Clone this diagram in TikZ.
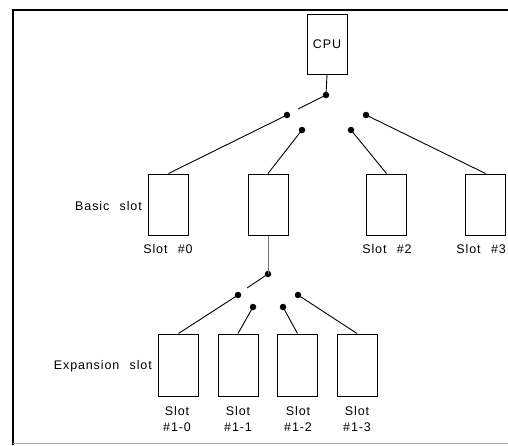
\documentclass[tikz,border=0pt]{standalone}
\usepackage{fontspec}
\setmainfont{Liberation Sans}[LetterSpace=7,WordSpace=2.4]
\begin{document}
\begin{tikzpicture}[x=1pt,y=-1pt,
  slotbox/.style={draw,line width=1pt,minimum width=40pt,minimum height=61pt,inner sep=0pt},
  cpubox/.style={draw,line width=1pt,minimum width=40pt,minimum height=60pt,inner sep=0pt},
  dot/.style={circle,fill,inner sep=0pt,minimum size=6.5pt},
  wire/.style={line width=0.9pt},
  lbl/.style={font=\fontsize{12.5}{16}\selectfont,inner sep=0pt,align=center}]
\useasboundingbox (0,0) rectangle (508,445);
% frame
\draw[line width=1.6pt] (13,445) -- (13,10) -- (508,10);
\draw[line width=0.6pt,black!35] (13,443) -- (508,443);
% CPU
\node[cpubox,lbl] (cpu) at (327,44) {CPU};
\node[dot] (p0) at (326,95) {};
\coordinate (a0) at (298,109);
\draw[wire] (cpu.south) -- (p0.center);
\draw[wire] (p0.center) -- (a0);
% basic slot contacts
\node[dot] (c0) at (287,115) {};
\node[dot] (c1) at (302,130) {};
\node[dot] (c2) at (351,130) {};
\node[dot] (c3) at (366,115) {};
% basic slots
\node[slotbox] (s0) at (168.5,204.5) {};
\node[slotbox] (s1) at (268,204.5) {};
\node[slotbox] (s2) at (386.5,204.5) {};
\node[slotbox] (s3) at (485.5,204.5) {};
\draw[wire] (c0.center) -- (s0.north);
\draw[wire] (c1.center) -- (s1.north);
\draw[wire] (c2.center) -- (s2.north);
\draw[wire] (c3.center) -- (s3.north);
\node[lbl,anchor=east] (bl) at (142,206) {Basic slot};
\node[lbl] (l0) at (168,249) {Slot \#0};
\node[lbl] (l2) at (387,249) {Slot \#2};
\node[lbl,anchor=east] (l3) at (506,249) {Slot \#3};
% expansion
\node[dot] (p1) at (268,274) {};
\coordinate (a1) at (247,288);
\draw[line width=0.8pt,black!55] (s1.south) -- (p1.center);
\draw[wire] (p1.center) -- (a1);
\node[dot] (e0) at (238,295) {};
\node[dot] (e1) at (253,307) {};
\node[dot] (e2) at (283,307) {};
\node[dot] (e3) at (298,295) {};
\node[slotbox,minimum height=62pt] (x0) at (178.5,365) {};
\node[slotbox,minimum height=62pt] (x1) at (238,365) {};
\node[slotbox,minimum height=62pt] (x2) at (297.5,365) {};
\node[slotbox,minimum height=62pt] (x3) at (357,365) {};
\draw[wire] (e0.center) -- (x0.north);
\draw[wire] (e1.center) -- (x1.north);
\draw[wire] (e2.center) -- (x2.north);
\draw[wire] (e3.center) -- (x3.north);
\node[lbl,anchor=east] (el) at (152,366) {Expansion slot};
\node[lbl] (m0) at (177,419) {Slot\\\#1-0};
\node[lbl] (m1) at (238,419) {Slot\\\#1-1};
\node[lbl] (m2) at (298,419) {Slot\\\#1-2};
\node[lbl] (m3) at (357,419) {Slot\\\#1-3};
\end{tikzpicture}
\end{document}
